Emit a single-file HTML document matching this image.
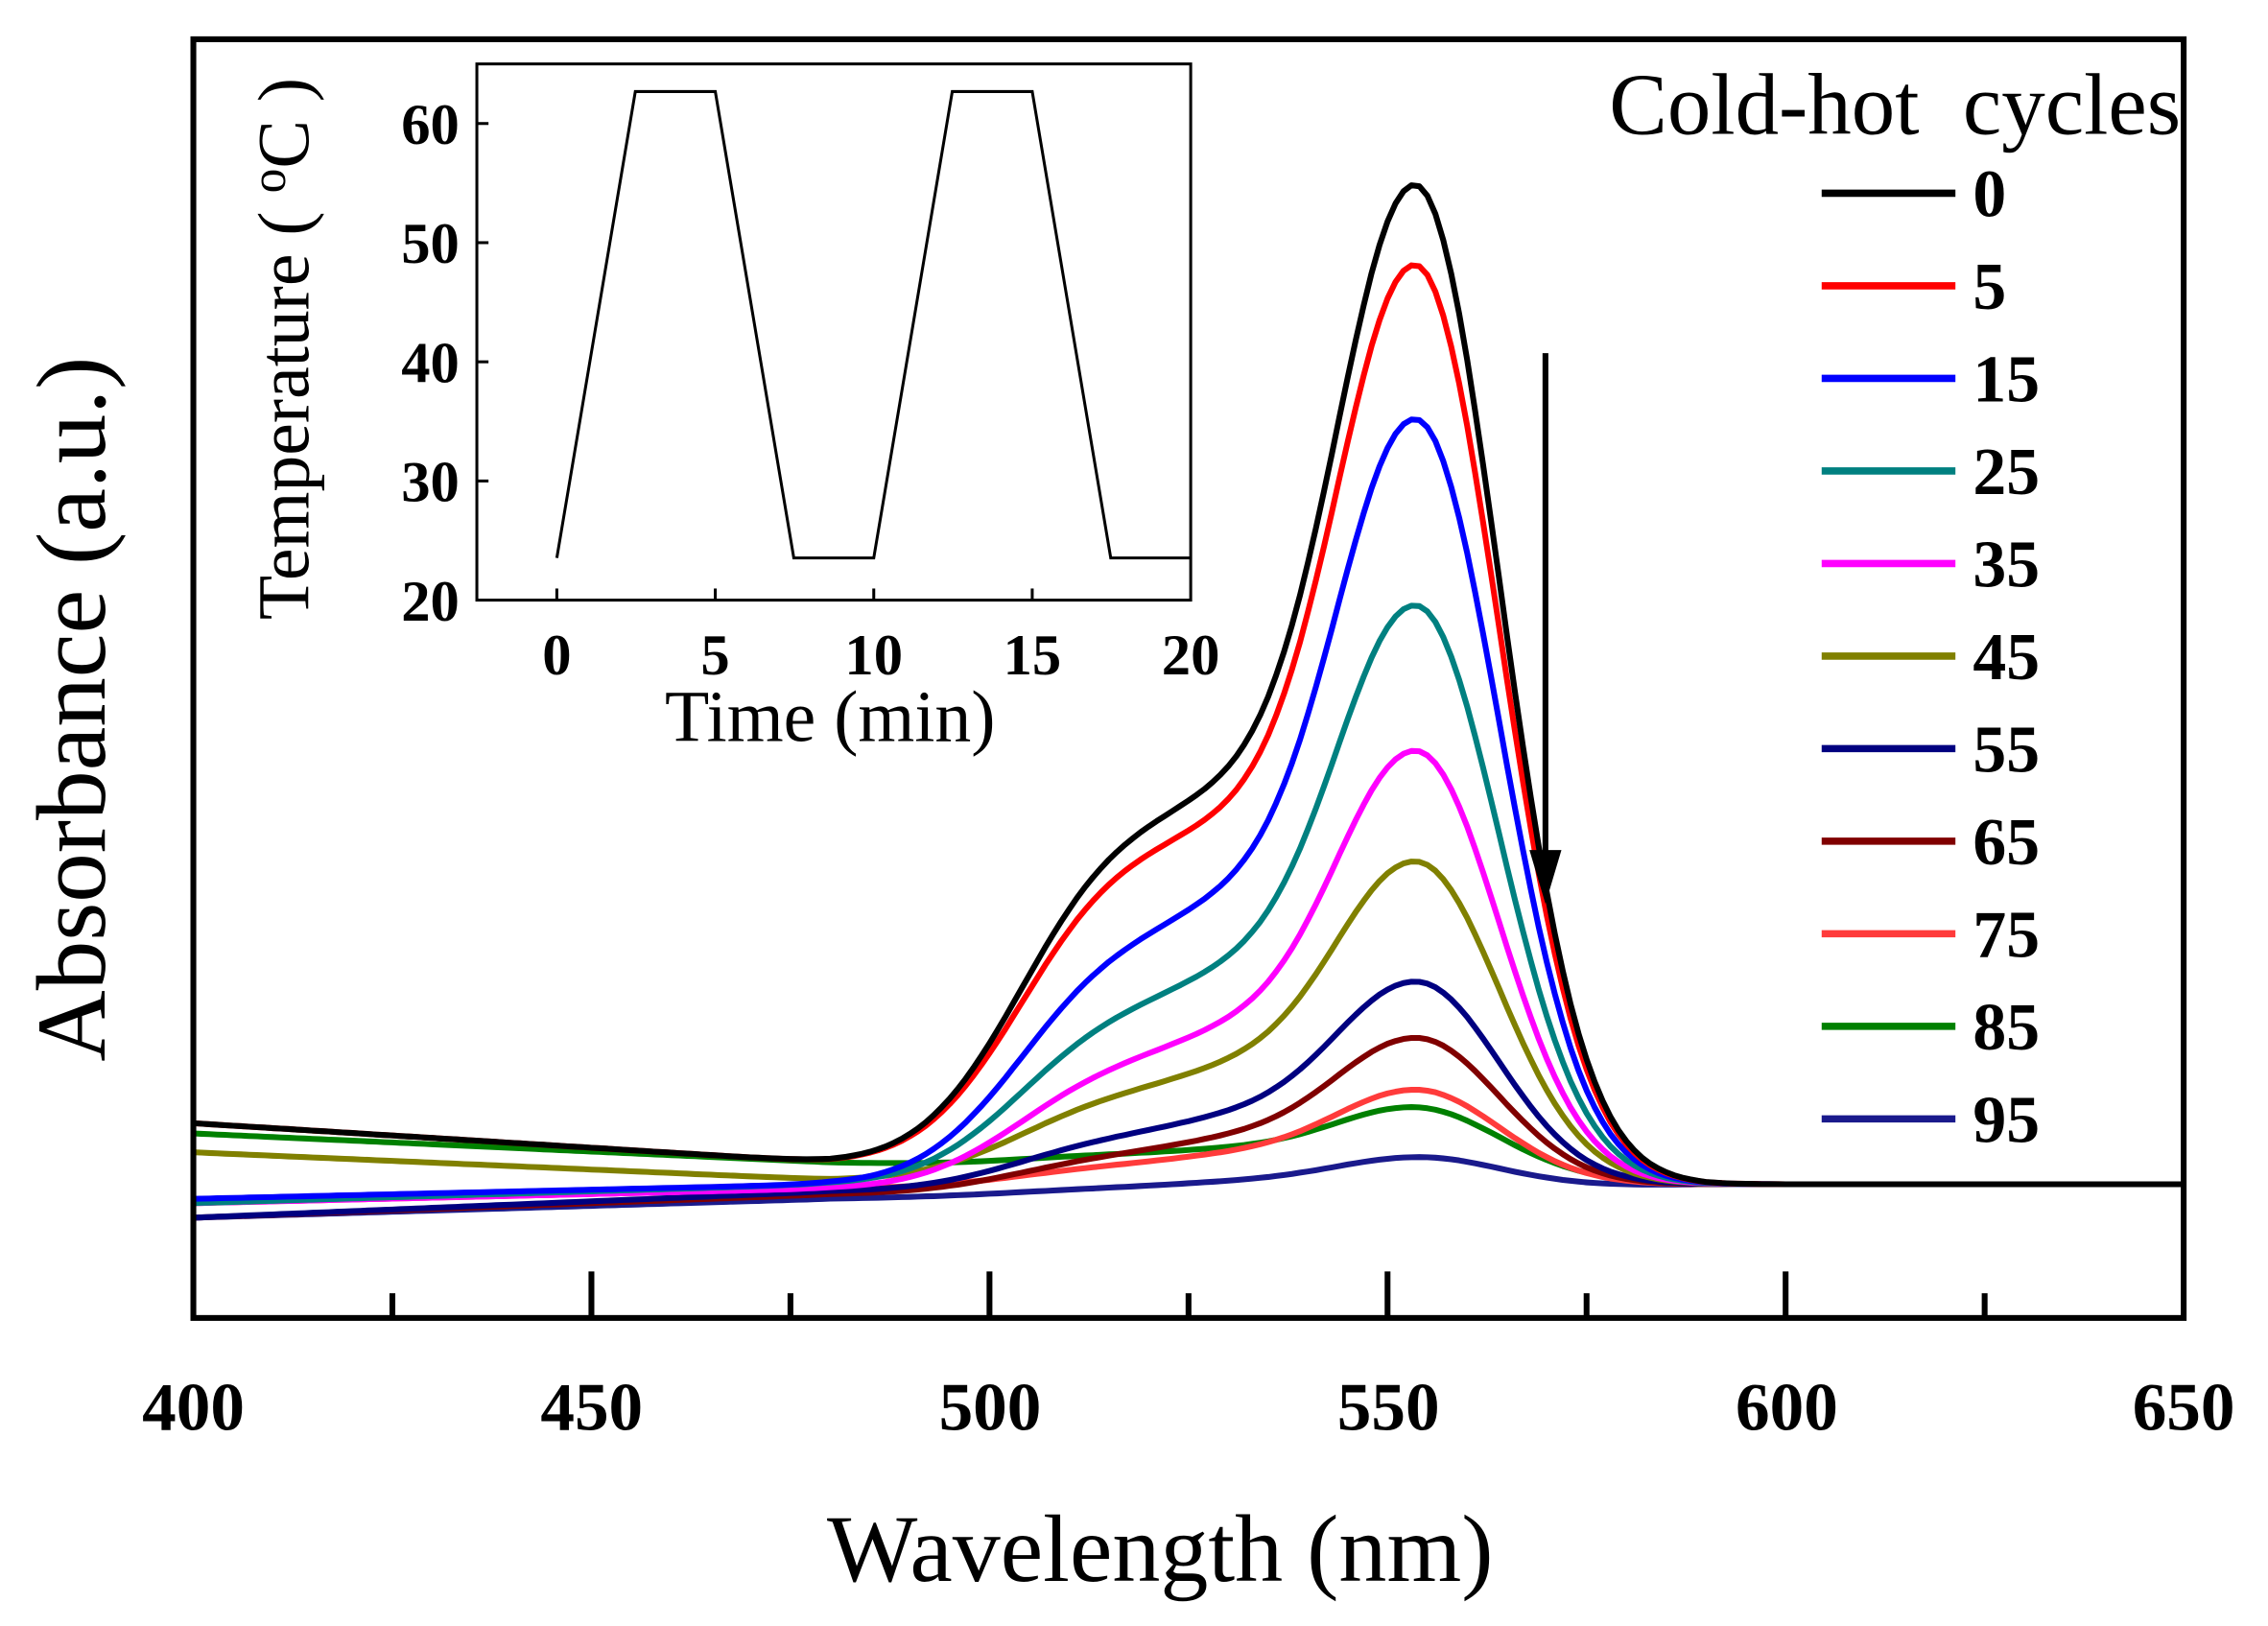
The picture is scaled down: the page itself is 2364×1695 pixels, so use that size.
<!DOCTYPE html>
<html><head><meta charset="utf-8"><style>
html,body{margin:0;padding:0;background:#fff;}
svg{display:block;}
text{font-family:"Liberation Serif",serif;}
</style></head><body>
<svg id="s" width="2364" height="1695" viewBox="0 0 1560 1119" preserveAspectRatio="none" xmlns="http://www.w3.org/2000/svg">
<rect x="0" y="0" width="1560" height="1119" fill="#fff"/>
<g id="curves" fill="none" stroke-width="4" stroke-linejoin="round"></g>
<rect x="133" y="27" width="1369" height="880" fill="none" stroke="#000" stroke-width="4"/>
<g id="ticks" stroke="#000" stroke-width="4"></g>
<g font-weight="bold" font-size="47" text-anchor="middle">
<text x="133" y="984">400</text><text x="407" y="984">450</text><text x="681" y="984">500</text>
<text x="955" y="984">550</text><text x="1229" y="984">600</text><text x="1502" y="984">650</text>
</g>
<text x="798" y="1088" font-size="66" text-anchor="middle">Wavelength (nm)</text>
<text transform="translate(72,488) rotate(-90)" font-size="68" text-anchor="middle">Absorbance  (a.u.)</text>
<!-- inset -->
<rect x="328" y="44" width="491" height="369" fill="#fff" stroke="#000" stroke-width="2"/>
<g id="iticks" stroke="#000" stroke-width="2"></g>
<polyline fill="none" stroke="#000" stroke-width="2" points="383,384 437,63 492,63 546,384 601,384 655,63 710,63 764,384 819,384"/>
<g font-weight="bold" font-size="40" text-anchor="middle">
<text x="383" y="464">0</text><text x="492" y="464">5</text><text x="601" y="464">10</text><text x="710" y="464">15</text><text x="819" y="464">20</text>
</g>
<g font-weight="bold" font-size="40" text-anchor="end">
<text x="316" y="99">60</text><text x="316" y="181">50</text><text x="316" y="263">40</text><text x="316" y="345">30</text><text x="316" y="427">20</text>
</g>
<text x="571" y="510" font-size="50" text-anchor="middle">Time (min)</text>
<text transform="translate(212,240) rotate(-90)" font-size="50" text-anchor="middle">Temperature ( <tspan dy="-16" font-size="34">o</tspan><tspan dy="16">C )</tspan></text>
<!-- legend -->
<text x="1500" y="92" font-size="60" text-anchor="end" xml:space="preserve">Cold-hot  cycles</text>
<g id="legend" stroke-width="5"></g>
<g id="leglab" font-weight="bold" font-size="46"></g>
<!-- arrow -->
<line x1="1063" y1="243" x2="1063" y2="590" stroke="#000" stroke-width="4"/>
<polygon points="1052,585 1074,585 1063,622" fill="#000"/>
</svg>
<script>
var NS="http://www.w3.org/2000/svg";
function el(p,t,a){var e=document.createElementNS(NS,t);for(var k in a)e.setAttribute(k,a[k]);p.appendChild(e);return e;}
var X=function(l){return 133+(l-400)*5.476;};
var tk=document.getElementById('ticks');
for(var l=425;l<650;l+=25){var maj=(l%50==0);el(tk,'line',{x1:X(l),x2:X(l),y1:907,y2:maj?875:890});}
var it=document.getElementById('iticks');
[0,5,10,15].forEach(function(t){var x=383+t*21.8;el(it,'line',{x1:x,x2:x,y1:413,y2:405});});
[30,40,50,60].forEach(function(v){var y=413-(v-20)*8.2;el(it,'line',{x1:328,x2:336,y1:y,y2:y});});
var S=[
["#000",133,773,800,"0"],["#f00",188,773,800,"5"],["#00f",289,825,815,"15"],["#008080",417,828,815,"25"],
["#f0f",516,828,818,"35"],["#808000",594,793,812,"45"],["#000080",674,838,820,"55"],["#800000",712,838,822,"65"],
["#ff3b3b",749,828,818,"75"],["#008000",767,780,800,"85"],["#1a1a8c",793,838,825,"95"]];
function g(l,m,s){return Math.exp(-(l-m)*(l-m)/(2*s*s));}
var cg=document.getElementById('curves');
for(var i=S.length-1;i>=0;i--){var c=S[i];var d="";
 for(var l=400;l<=650;l+=1){
  var b;if(l<480)b=c[2]+(c[3]-c[2])*(l-400)/80;else if(l<590)b=c[3]+(815-c[3])*(l-480)/110;else b=815;
  var A=815-c[1]; var sh=(i<=1)?1:(1-i*0.04);
  var sig=l<553.5?12:10.5;
  var sm=1/(1+Math.exp((l-546)/5));
  var f=g(l,553.5,sig)+(0.27*sh*g(l,515,12)+0.15*g(l,530,9))*sm;
  var y=b-A*f;
  d+=(l==400?"M":"L")+X(l).toFixed(1)+","+y.toFixed(1);}
 el(cg,'path',{d:d,stroke:c[0]});}
var lg=document.getElementById('legend'),ll=document.getElementById('leglab');
S.forEach(function(c,i){var y=133+i*63.7;el(lg,'line',{x1:1253,x2:1345,y1:y,y2:y,stroke:c[0]});
 var t=el(ll,'text',{x:1357,y:y+16});t.textContent=c[4];});
</script>
</body></html>
